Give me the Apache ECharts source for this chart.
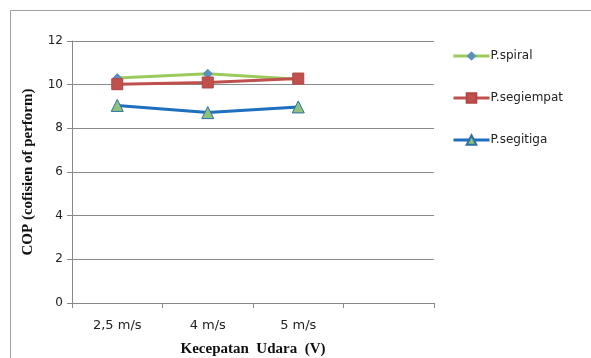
<!DOCTYPE html>
<html>
<head>
<meta charset="utf-8">
<script src="https://cdn.jsdelivr.net/npm/echarts@6/dist/echarts.min.js"></script>
<style>
  html, body { margin: 0; padding: 0; background: #fff; }
  #chart { width: 591px; height: 358px; }
</style>
</head>
<body>
<div id="chart"></div>
<script>
// Air speed categories (last slot left blank on the axis)
const categories = ['2,5 m/s', '4 m/s', '5 m/s', ''];
// COP values per pipe shape
const spiral = [10.3, 10.5, 10.25];
const segiempat = [10.02, 10.1, 10.28];
const segitiga = [9.05, 8.72, 8.98];
const yTicks = { min: 0, max: 12, interval: 2 };

const chart = echarts.init(document.getElementById('chart'), null, { renderer: 'canvas' });

const sans = 'DejaVu Sans, sans-serif';
const serif = 'Liberation Serif, DejaVu Serif, serif';

chart.setOption({
  animation: false,
  backgroundColor: '#fff',
  graphic: [{
    type: 'rect',
    shape: { x: 10.5, y: 10.5, width: 620, height: 400 },
    style: { fill: 'none', stroke: '#a0a0a0', lineWidth: 1 },
    z: -1
  }],
  grid: { left: 72, top: 41, width: 362, height: 262, containLabel: false, outerBoundsMode: 'none' },
  legend: {
    orient: 'vertical',
    left: 447,
    top: 45,
    itemGap: 30,
    itemWidth: 36,
    itemHeight: 12,
    lineStyle: { width: 3 },
    textStyle: { fontFamily: sans, fontSize: 12, color: '#222', padding: [0, 0, 0, -4] },
    data: ['P.spiral', 'P.segiempat', 'P.segitiga']
  },
  xAxis: {
    type: 'category',
    data: categories,
    boundaryGap: true,
    name: 'Kecepatan  Udara  (V)',
    nameLocation: 'middle',
    nameGap: 39,
    nameTextStyle: { fontFamily: serif, fontWeight: 'bold', fontSize: 15, color: '#111' },
    axisLine: { lineStyle: { color: '#888', width: 1 } },
    axisTick: { show: true, alignWithLabel: false, length: 5, inside: false, lineStyle: { color: '#888' } },
    axisLabel: { fontFamily: sans, fontSize: 13, color: '#222', margin: 16 },
    splitLine: { show: false }
  },
  yAxis: {
    type: 'value',
    min: yTicks.min,
    max: yTicks.max,
    interval: yTicks.interval,
    name: 'COP (cofisien of perform)',
    nameLocation: 'middle',
    nameGap: 36,
    nameTextStyle: { fontFamily: serif, fontWeight: 'bold', fontSize: 15, color: '#111' },
    axisLine: { show: true, lineStyle: { color: '#888', width: 1 } },
    axisTick: { show: true, length: 5, lineStyle: { color: '#888' } },
    axisLabel: { fontFamily: sans, fontSize: 12, color: '#222', margin: 9 },
    splitLine: { lineStyle: { color: '#8a8a8a', width: 1 } }
  },
  series: [
    {
      name: 'P.spiral',
      type: 'line',
      data: spiral,
      symbol: 'diamond',
      symbolSize: 9,
      lineStyle: { color: '#9BCB5A', width: 3 },
      itemStyle: { color: '#5A8FBF', borderColor: '#5A8FBF' },
      z: 2
    },
    {
      name: 'P.segiempat',
      type: 'line',
      data: segiempat,
      symbol: 'rect',
      symbolSize: 11,
      lineStyle: { color: '#C0504D', width: 3 },
      itemStyle: { color: '#C0504D', borderColor: '#B04542', borderWidth: 1 },
      z: 3
    },
    {
      name: 'P.segitiga',
      type: 'line',
      data: segitiga,
      symbol: 'triangle',
      symbolSize: 12,
      lineStyle: { color: '#1F6FBF', width: 3 },
      itemStyle: { color: '#8CC27A', borderColor: '#2E6FA8', borderWidth: 1 },
      z: 4
    }
  ]
});
</script>
</body>
</html>
